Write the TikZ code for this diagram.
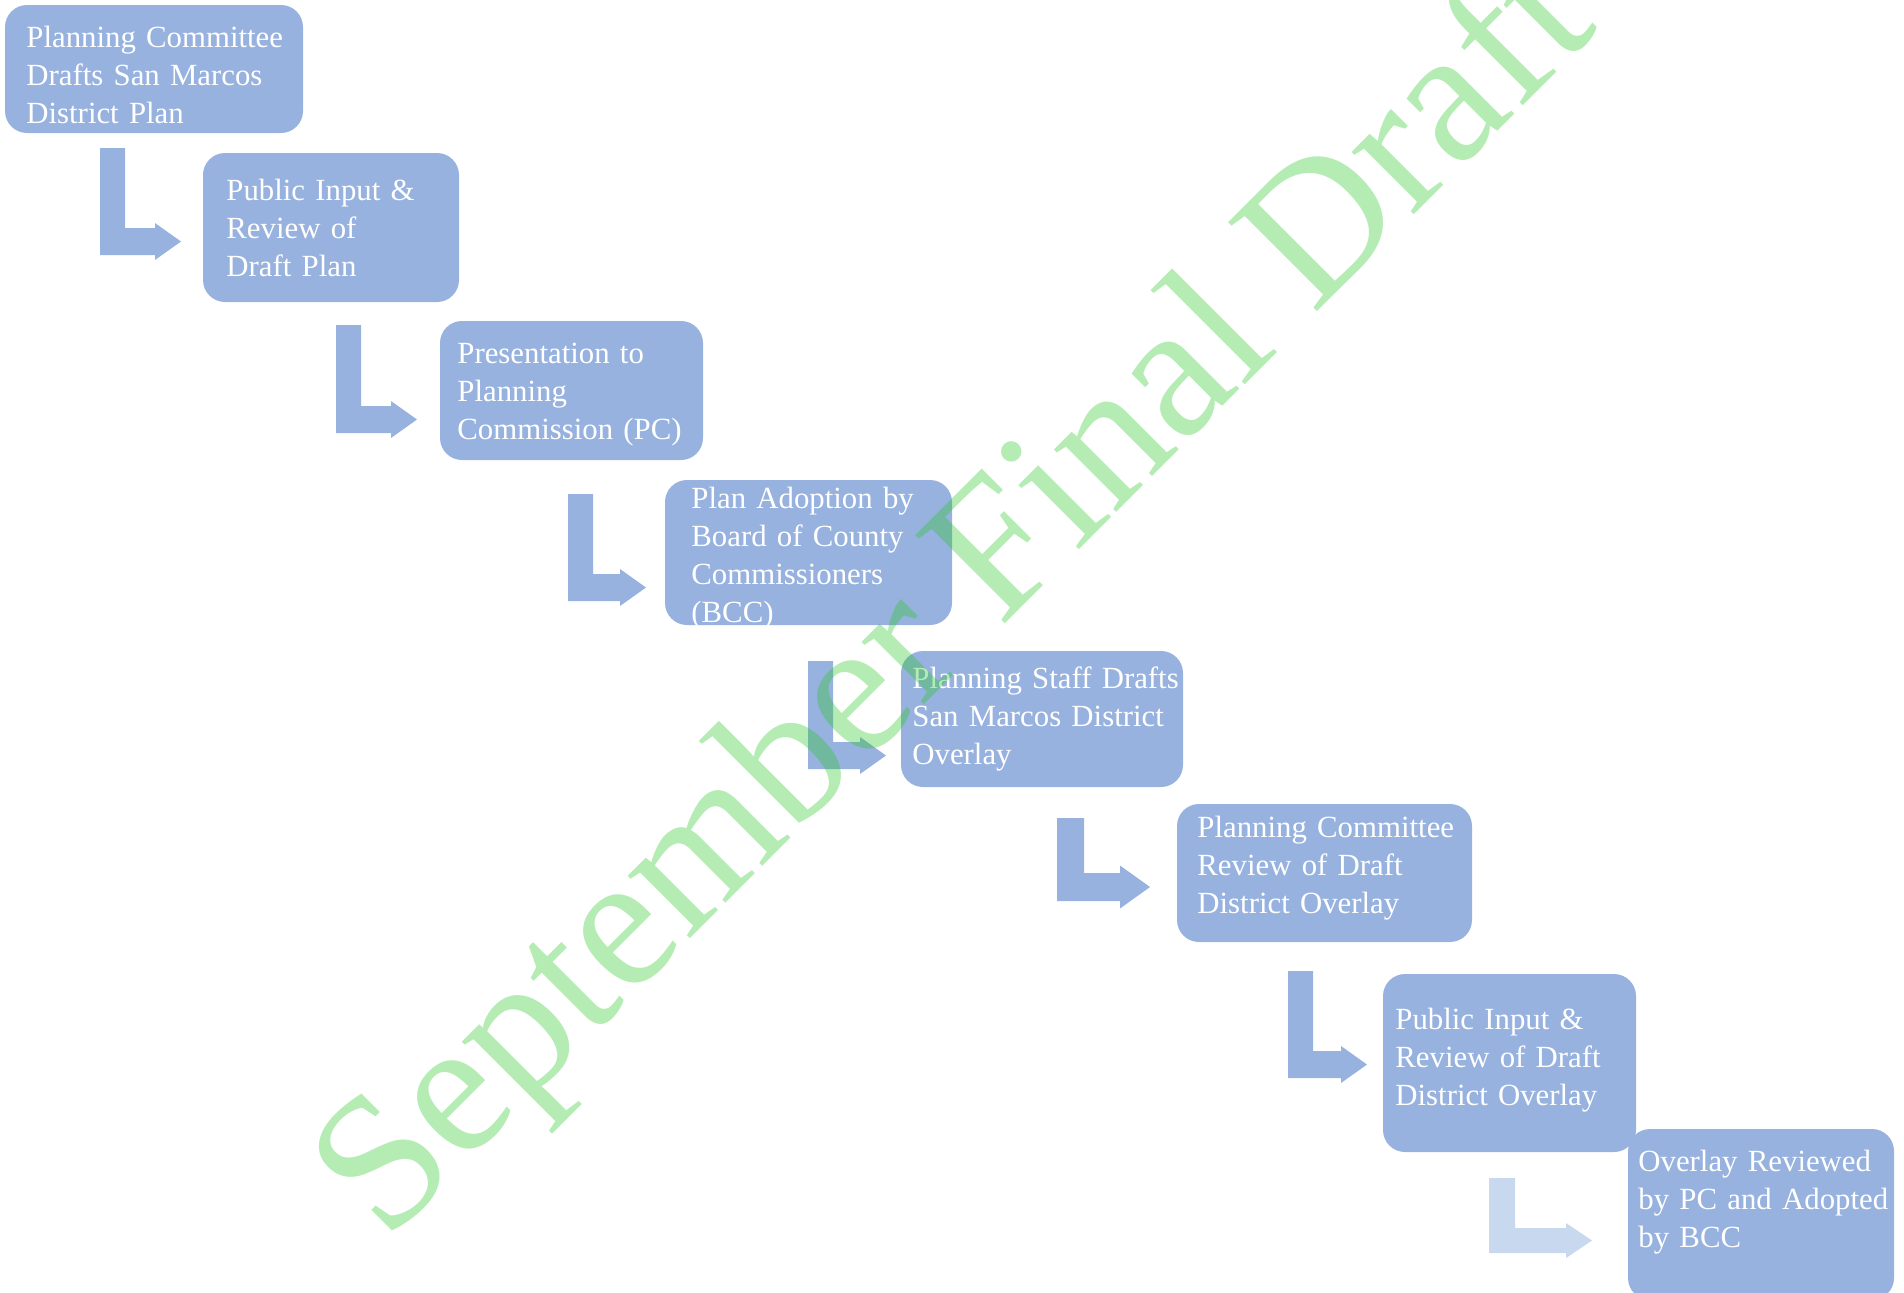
\documentclass[tikz,border=0pt]{standalone}
\usepackage{fontspec}
\setmainfont{Liberation Serif}
\usetikzlibrary{fit}
\definecolor{boxblue}{RGB}{151,178,222}
\definecolor{fadeblue}{RGB}{200,216,238}
\definecolor{wmgreen}{RGB}{40,200,40}
% #1 colour, #2 left, #3 top, #4 bottom, #5 tip x, #6 head base x, #7 bar width, #8 shaft thickness, #9 head half height
\newcommand\blockarrow[9]{%
  \fill[#1] (#2,#3) -- ({#2+#7},#3) -- ({#2+#7},{#4-#8}) -- (#6,{#4-#8})
    -- (#6,{#4-#8/2-#9}) -- (#5,{#4-#8/2}) -- (#6,{#4-#8/2+#9})
    -- (#6,#4) -- (#2,#4) -- cycle;}
\tikzset{
  box/.style={fill=boxblue, rounded corners=11pt, inner sep=0pt, draw=none},
  lbl/.style={anchor=base west, inner sep=0pt, text width=200pt, align=left,
    text=white, font=\fontsize{15.4}{19}\selectfont},
  wm/.style={rotate=45, anchor=base, inner sep=0pt, text=wmgreen,
    text opacity=0.35, font=\fontsize{96}{96}\selectfont}
}
\begin{document}
\begin{tikzpicture}[x=0.5pt,y=-0.5pt]
\useasboundingbox (0,0) rectangle (1904,1292);
% boxes
\node[box, fit={(5,5) (303,133)}] (b1) {};
\node[box, fit={(203,153) (459,302)}] (b2) {};
\node[box, fit={(440,321) (703,460)}] (b3) {};
\node[box, fit={(665,480) (952,625)}] (b4) {};
\node[box, fit={(901,651) (1183,787)}] (b5) {};
\node[box, fit={(1177,804) (1472,942)}] (b6) {};
\node[box, fit={(1383,974) (1636,1152)}] (b7) {};
\node[box, fit={(1628,1129) (1894,1300)}] (b8) {};
% block arrows
\blockarrow{boxblue}{100}{148}{255}{181}{155}{25}{27}{18.5}
\blockarrow{boxblue}{336}{325}{433}{417}{391}{25}{27}{18.5}
\blockarrow{boxblue}{568}{494}{601}{646}{620}{25}{27}{18.5}
\blockarrow{boxblue}{808}{661}{769}{886}{860}{25}{27}{18.5}
\blockarrow{boxblue}{1057}{818}{901}{1150}{1120}{27}{28}{21.5}
\blockarrow{boxblue}{1288}{971}{1078}{1367}{1341}{25}{27}{18.5}
\blockarrow{fadeblue}{1489}{1178}{1253}{1592}{1566}{26}{25}{17.5}
% texts
\node[lbl] (t1) at (26,47) {Planning Committee\\Drafts San Marcos\\District Plan};
\node[lbl] (t2) at (226,200) {Public Input \&\\Review of\\Draft Plan};
\node[lbl] (t3) at (457,363) {Presentation to\\Planning\\Commission (PC)};
\node[lbl] (t4) at (691,508) {Plan Adoption by\\Board of County\\Commissioners\\(BCC)};
\node[lbl] (t5) at (912,688) {Planning Staff Drafts\\San Marcos District\\Overlay};
\node[lbl] (t6) at (1197,837) {Planning Committee\\Review of Draft\\District Overlay};
\node[lbl] (t7) at (1395,1029) {Public Input \&\\Review of Draft\\District Overlay};
\node[lbl] (t8) at (1638,1171) {Overlay Reviewed\\by PC and Adopted\\by BCC};
% watermark
\node[wm] (wmark) at (993,636) {September Final Draft};
\end{tikzpicture}
\end{document}
